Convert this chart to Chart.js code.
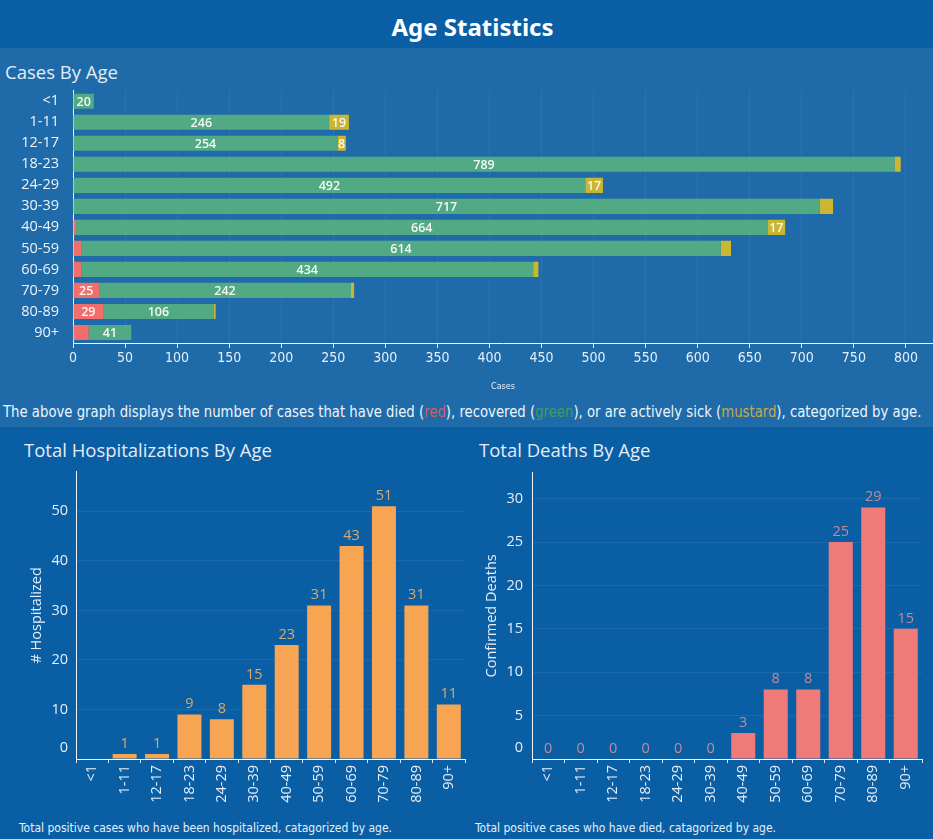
<!DOCTYPE html>
<html><head><meta charset="utf-8">
<script src="https://cdn.jsdelivr.net/npm/chart.js@4.4.1/dist/chart.umd.min.js"></script>
<style>
html,body{margin:0;padding:0;}
body{width:933px;height:839px;background:#0a5ea4;position:relative;overflow:hidden;font-family:"Open Sans",sans-serif;color:#e6eef8;}
.abs{position:absolute;white-space:nowrap;}
#panel{left:0;top:48px;width:933px;height:379px;background:#1f6baa;}
#title{left:6px;top:12px;width:933px;text-align:center;font-weight:bold;font-size:24px;font-family:"Noto Sans",sans-serif;color:#fff;line-height:30px;}
.h2{font-size:18.5px;line-height:22px;color:#e3ecf7;}
.narrow{font-family:"Liberation Sans Narrow","DejaVu Sans Condensed",sans-serif;}
#desc{left:3px;top:403px;font-size:15px;line-height:18px;color:#eef4fa;transform-origin:0 0;}
.foot{font-size:12px;line-height:14px;color:#e6eef8;}
canvas{position:absolute;}
</style>
</head><body>
<div id="panel" class="abs"></div>
<div id="title" class="abs">Age Statistics</div>
<div class="abs h2" style="left:5px;top:61px;">Cases By Age</div>
<div id="desc" class="abs narrow">The above graph displays the number of cases that have died (<span style="color:#c8615e">red</span>), recovered (<span style="color:#3f9c5c">green</span>), or are actively sick (<span style="color:#c9aa3c">mustard</span>), categorized by age.</div>
<div class="abs h2" style="left:24px;top:439px;">Total Hospitalizations By Age</div>
<div class="abs h2" style="left:479px;top:439px;">Total Deaths By Age</div>
<div class="abs foot narrow" style="left:19px;top:821px;">Total positive cases who have been hospitalized, catagorized by age.</div>
<div class="abs foot narrow" style="left:475px;top:821px;">Total positive cases who have died, catagorized by age.</div>

<canvas id="cases" width="933" height="320" style="left:0;top:76px;"></canvas>
<canvas id="hosp" width="470" height="362" style="left:0;top:455px;"></canvas>
<canvas id="deaths" width="463" height="362" style="left:470px;top:455px;"></canvas>

<script>
// ---- Data ----
const ageGroups = ['<1','1-11','12-17','18-23','24-29','30-39','40-49','50-59','60-69','70-79','80-89','90+'];
const casesDied      = [0, 0, 0, 0, 0, 0, 3, 8, 8, 25, 29, 15];
const casesRecovered = [20, 246, 254, 789, 492, 717, 664, 614, 434, 242, 106, 41];
const casesActive    = [0, 19, 8, 6, 17, 13, 17, 10, 5, 3, 2, 0];
const hospitalized   = [null, 1, 1, 9, 8, 15, 23, 31, 43, 51, 31, 11];
const deaths         = [0, 0, 0, 0, 0, 0, 3, 8, 8, 25, 29, 15];
const casesAxisMax = 826, casesStep = 50;
const hospAxisMax = 58, hospStep = 10;
const deathsAxisMax = 33, deathsStep = 5;

// fit the description line to its width in the reference
(function(){
  const d = document.getElementById('desc');
  const w = d.scrollWidth;
  d.style.transform = 'scaleX(' + (918 / w) + ')';
})();

const TXT = '#e6eef8';
const NARROW = '"Liberation Sans Narrow","DejaVu Sans Condensed",sans-serif';

// labels inside stacked horizontal bars (shown only where they fit)
const insideLabels = {
  id: 'insideLabels',
  afterDatasetsDraw(chart) {
    const ctx = chart.ctx;
    const axisLeft = chart.chartArea.left;
    ctx.save();
    ctx.font = '600 12.5px "Open Sans", sans-serif';
    ctx.fillStyle = '#f4f8f4';
    ctx.textAlign = 'center';
    ctx.textBaseline = 'middle';
    chart.data.datasets.forEach((ds, di) => {
      const meta = chart.getDatasetMeta(di);
      meta.data.forEach((bar, i) => {
        const v = ds.data[i];
        if (!v) return;
        const x0 = Math.min(bar.base, bar.x), x1 = Math.max(bar.base, bar.x);
        let avail = x1 - x0;
        if (Math.abs(x0 - axisLeft) < 1) avail -= 2;
        const t = String(v);
        if (avail < ctx.measureText(t).width) return;
        ctx.fillText(t, (x0 + x1) / 2, bar.y + 1);
      });
    });
    ctx.restore();
  }
};

// labels above vertical bars + raised zero tick label
const topLabels = {
  id: 'topLabels',
  afterDatasetsDraw(chart, args, opts) {
    const ctx = chart.ctx;
    ctx.save();
    ctx.font = '14.5px "Open Sans", sans-serif';
    ctx.fillStyle = opts.color;
    ctx.textAlign = 'center';
    ctx.textBaseline = 'bottom';
    const meta = chart.getDatasetMeta(0);
    const ys = chart.scales.y;
    meta.data.forEach((bar, i) => {
      const v = chart.data.datasets[0].data[i];
      if (v === null || v === undefined) return;
      ctx.fillText(String(v), bar.x, ys.getPixelForValue(v) - 3);
    });
    ctx.font = '14.5px "Open Sans", sans-serif';
    ctx.fillStyle = TXT;
    ctx.textAlign = 'right';
    ctx.textBaseline = 'middle';
    ctx.fillText('0', ys.right - opts.tickPad, ys.getPixelForValue(0) - 11);
    ctx.restore();
  }
};

Chart.defaults.font.family = '"Open Sans", sans-serif';
Chart.defaults.color = TXT;

new Chart(document.getElementById('cases'), {
  type: 'bar',
  data: {
    labels: ageGroups,
    datasets: [
      { label: 'Died', data: casesDied, backgroundColor: '#f26e6c' },
      { label: 'Recovered', data: casesRecovered, backgroundColor: '#52aa85' },
      { label: 'Active', data: casesActive, backgroundColor: '#cbb631' }
    ]
  },
  options: {
    indexAxis: 'y',
    responsive: false,
    animation: false,
    layout: { padding: { top: 4, right: 0, left: 0, bottom: 0 } },
    datasets: { bar: { barPercentage: 0.72, categoryPercentage: 1 } },
    plugins: { legend: { display: false }, tooltip: { enabled: false } },
    scales: {
      x: {
        stacked: true, min: 0, max: casesAxisMax,
        afterBuildTicks(s) { s.ticks = s.ticks.filter(t => t.value % casesStep === 0); },
        afterFit(s) { s.height = 53; },
        ticks: { stepSize: casesStep, includeBounds: false, padding: 2, color: TXT,
                 font: { family: NARROW, size: 14 }, maxRotation: 0 },
        grid: { color: 'rgba(255,255,255,0.06)', tickColor: '#dce8f4', tickLength: 5 },
        border: { color: '#f2f6fa', width: 1 },
        title: { display: true, text: 'Cases', color: TXT, font: { family: NARROW, size: 9 }, padding: { top: 10 } }
      },
      y: {
        stacked: true,
        afterFit(s) { s.width = 73; },
        ticks: { padding: 6, color: '#eef3f8', font: { size: 14.5 } },
        grid: { display: false },
        border: { color: '#f2f6fa', width: 1 }
      }
    }
  },
  plugins: [insideLabels]
});

function vbar(id, data, color, labelColor, max, step, yTitle, yWidth, titlePad, rightPad, tickPad) {
  new Chart(document.getElementById(id), {
    type: 'bar',
    data: { labels: ageGroups, datasets: [{ data: data, backgroundColor: color }] },
    options: {
      responsive: false,
      animation: false,
      layout: { padding: { top: 1, right: rightPad, left: 0, bottom: 0 } },
      datasets: { bar: { barPercentage: 0.74, categoryPercentage: 1 } },
      plugins: { legend: { display: false }, tooltip: { enabled: false },
                 topLabels: { color: labelColor, tickPad: tickPad } },
      scales: {
        x: {
          afterFit(s) { s.height = 58; },
          ticks: { minRotation: 90, maxRotation: 90, padding: 2, color: TXT, font: { size: 14.5 }, autoSkip: false },
          grid: { offset: true, drawOnChartArea: false, tickLength: 4, tickColor: '#dce8f4' },
          border: { color: '#f2f6fa', width: 1 }
        },
        y: {
          min: 0, max: max,
          afterFit(s) { s.width = yWidth; },
          ticks: { stepSize: step, includeBounds: false, padding: tickPad, color: TXT, font: { size: 14.5 },
                   callback: v => v === 0 ? '' : v },
          grid: { color: 'rgba(255,255,255,0.07)', drawTicks: false },
          border: { color: '#f2f6fa', width: 1 },
          title: { display: true, text: yTitle, color: TXT, font: { size: 14.5 }, padding: { top: titlePad } }
        }
      }
    },
    plugins: [topLabels]
  });
}

vbar('hosp', hospitalized, '#f7a453', '#d8aa6c', hospAxisMax, hospStep, '# Hospitalized', 76, 28, 5, 8);
vbar('deaths', deaths, '#f07a78', '#c48a99', deathsAxisMax, deathsStep, 'Confirmed Deaths', 62, 13, 11, 9);
</script>
</body></html>
